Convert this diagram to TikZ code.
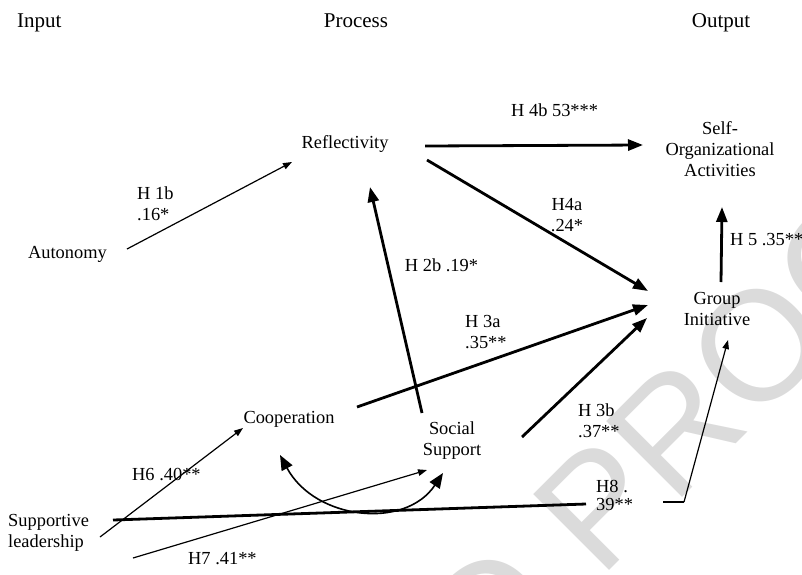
\documentclass[tikz,border=0pt]{standalone}
\usepackage{fontspec}
\setmainfont{Liberation Serif}
\newfontfamily\wmfont{Liberation Sans}
\usetikzlibrary{arrows.meta}
\begin{document}
\begin{tikzpicture}[x=1pt,y=-1pt,
  lbl/.style={inner sep=0pt, font=\fontsize{18.4}{21}\selectfont, anchor=base},
  hdr/.style={inner sep=0pt, font=\fontsize{21}{24}\selectfont, anchor=base},
  wm/.style={inner sep=0pt, text=black!14, font=\wmfont\fontsize{156}{160}\selectfont, rotate=45},
  boldarrow/.style={line width=2.8pt, -{Triangle[length=15pt,width=11pt]}},
  finearrow/.style={line width=1.2pt, -{Triangle[length=9pt,width=6.5pt]}},
  boldline/.style={line width=2.8pt},
  swaparrow/.style={line width=1.6pt, {Triangle[length=15pt,width=12pt]}-{Triangle[length=15pt,width=12pt]}}
]
\useasboundingbox (0,0) rectangle (802,574);

% watermark behind the model
\begin{scope}
  \clip (0,0) rectangle (802,574);
  \node[wm, anchor=base west] (wmproof) at (600,580) {PROOF};
  \node[wm, anchor=base east] (wmuncorr) at (569.3,610.7) {UNCORRECTED};
\end{scope}

% column headings
\node[hdr, anchor=base west] (input) at (17,27) {Input};
\node[hdr] (process) at (356,27) {Process};
\node[hdr] (output) at (721,27) {Output};

% constructs (multi-line nodes are placed by their last baseline)
\node[lbl] (refl) at (345,148) {Reflectivity};
\node[lbl] (auto) at (67.5,258) {Autonomy};
\node[lbl, align=center] (selforg) at (720,176.5) {Self-\\Organizational\\Activities};
\node[lbl, align=center] (group) at (717,325) {Group\\Initiative};
\node[lbl] (coop) at (289,423) {Cooperation};
\node[lbl, align=center] (social) at (452,455.5) {Social\\Support};
\node[lbl, align=left, anchor=base west] (lead) at (8,547.5) {Supportive\\leadership};

% path coefficients
\node[lbl, align=left, anchor=base west] (h1b) at (137,220) {H 1b\\.16*};
\node[lbl, anchor=base west] (h4b) at (511,116.5) {H 4b 53***};
\node[lbl, align=center] (h4a) at (567,231) {H4a\\.24*};
\node[lbl] (h2b) at (441.5,271.5) {H 2b .19*};
\node[lbl, anchor=base west] (h5) at (730,245) {H 5 .35**};
\node[lbl, align=left, anchor=base west] (h3a) at (465,348.5) {H 3a\\.35**};
\node[lbl, align=left, anchor=base west] (h3b) at (578,437) {H 3b\\.37**};
\node[lbl, anchor=base west] (h6) at (132,480) {H6 .40**};
\node[lbl, anchor=base west] (h7) at (188,564) {H7 .41**};
\node[lbl, align=left, anchor=base west, font=\fontsize{18.4}{18}\selectfont] (h8) at (596,510) {H8 .\\39**};

% connector end points
\coordinate (auto-out) at (127,249);
\coordinate (refl-in) at (292,162);
\coordinate (refl-out-so) at (425,146);
\coordinate (so-in-refl) at (643,145);
\coordinate (refl-out-gi) at (427,160);
\coordinate (gi-in-refl) at (648,291);
\coordinate (ss-out-refl) at (422,413);
\coordinate (refl-in-ss) at (370,187);
\coordinate (coop-out) at (357,407);
\coordinate (gi-in-coop) at (648,305);
\coordinate (ss-out-gi) at (522,437);
\coordinate (gi-in-ss) at (647,318);
\coordinate (gi-out) at (721,282);
\coordinate (so-in-gi) at (722,207);
\coordinate (lead-out-coop) at (100,537);
\coordinate (coop-in) at (243,428);
\coordinate (lead-out-ss) at (133,558);
\coordinate (ss-in-lead) at (427,470);
\coordinate (coop-curve) at (280,455);
\coordinate (ss-curve) at (443,473);
\coordinate (lead-out-gi) at (113,520);
\coordinate (h8-gap-left) at (586,504);
\coordinate (h8-gap-right) at (663,502);
\coordinate (h8-corner) at (684,502);
\coordinate (gi-in-lead) at (728,340);

% paths
\draw[finearrow] (auto-out) -- (refl-in);
\draw[boldarrow] (refl-out-so) -- (so-in-refl);
\draw[boldarrow] (refl-out-gi) -- (gi-in-refl);
\draw[boldarrow] (ss-out-refl) -- (refl-in-ss);
\draw[boldarrow] (coop-out) -- (gi-in-coop);
\draw[boldarrow] (ss-out-gi) -- (gi-in-ss);
\draw[boldarrow] (gi-out) -- (so-in-gi);
\draw[finearrow] (lead-out-coop) -- (coop-in);
\draw[finearrow] (lead-out-ss) -- (ss-in-lead);
\draw[swaparrow] (coop-curve) .. controls (315,520) and (405,530) .. (ss-curve);
\draw[boldline] (lead-out-gi) -- (h8-gap-left);
\draw[boldline] (h8-gap-right) -- (h8-corner);
\draw[finearrow] (h8-corner) -- (gi-in-lead);
\end{tikzpicture}
\end{document}
